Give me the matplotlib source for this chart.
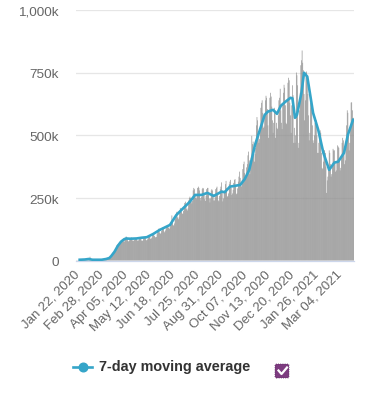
"""
Daily bars and 7-day moving average, Jan 2020 - Mar 2021.
"""
import matplotlib
matplotlib.use('Agg')
import matplotlib.pyplot as plt
from matplotlib.patches import FancyBboxPatch
from matplotlib.lines import Line2D
from matplotlib.transforms import ScaledTranslation

W, H = 371, 393

# daily values in thousands, one row per week (first day Jan 22, 2020)
daily = [
    0.6, 0.6, 0.3, 0.7, 0.8, 1.7, 1.1,
    2, 2, 2, 2, 3, 3, 4,
    4, 3, 3, 3, 3, 3, 2,
    2, 15, 6, 3, 2, 2, 2,
    1, 1, 1, 1, 1, 1, 1,
    1, 1, 1, 2, 2, 2, 2,
    2, 3, 4, 4, 4, 4, 5,
    7, 7, 11, 11, 13, 16, 19,
    26, 28, 34, 31, 34, 41, 43,
    50, 62, 64, 67, 60, 65, 73,
    75, 81, 84, 82, 77, 74, 82,
    88, 96, 94, 88, 78, 76, 80,
    85, 85, 92, 83, 80, 78, 80,
    82, 86, 90, 88, 82, 78, 80,
    84, 88, 92, 86, 80, 78, 80,
    90, 92, 92, 90, 82, 80, 84,
    88, 95, 98, 94, 86, 88, 92,
    102, 105, 108, 98, 94, 92, 94,
    105, 118, 125, 128, 112, 106, 110,
    118, 128, 132, 128, 116, 112, 120,
    128, 138, 140, 135, 130, 126, 132,
    145, 152, 180, 160, 142, 138, 148,
    165, 178, 192, 195, 172, 165, 172,
    195, 210, 205, 195, 188, 186, 198,
    215, 230, 235, 225, 205, 200, 208,
    240, 250, 255, 250, 235, 228, 238,
    280, 290, 285, 265, 250, 248, 258,
    290, 295, 290, 280, 250, 240, 255,
    285, 290, 288, 270, 245, 238, 258,
    285, 290, 290, 262, 248, 232, 248,
    280, 285, 280, 265, 240, 240, 252,
    285, 290, 295, 270, 240, 236, 258,
    285, 295, 312, 280, 236, 248, 272,
    280, 305, 318, 290, 255, 258, 268,
    305, 315, 322, 290, 262, 268, 282,
    310, 322, 325, 300, 265, 268, 288,
    315, 335, 355, 330, 300, 296, 322,
    365, 385, 395, 350, 325, 335, 372,
    385, 420, 435, 400, 345, 380, 410,
    498, 465, 475, 440, 395, 425, 450,
    540, 573, 560, 500, 470, 485, 520,
    610, 630, 640, 590, 530, 535, 570,
    640, 658, 650, 605, 540, 490, 595,
    650, 670, 655, 615, 560, 510, 550,
    610, 600, 490, 550, 530, 525, 580,
    640, 650, 686, 600, 550, 525, 625,
    670, 702, 690, 620, 550, 545, 645,
    710, 730, 720, 630, 580, 510, 620,
    700, 660, 470, 530, 470, 500, 751,
    740, 700, 450, 470, 600, 670, 780,
    800, 839, 790, 760, 665, 560, 640,
    750, 755, 730, 665, 580, 480, 510,
    630, 610, 610, 540, 480, 470, 500,
    550, 570, 560, 500, 430, 430, 470,
    500, 520, 510, 430, 370, 365, 395,
    440, 440, 430, 375, 270, 320, 335,
    380, 440, 430, 385, 335, 345, 385,
    446, 440, 440, 395, 355, 360, 390,
    460, 455, 450, 400, 360, 370, 410,
    470, 490, 480, 430, 385, 400, 455,
    540, 600, 590, 510, 440, 470, 530,
    631, 632, 600, 560, 570,
]

# moving average: day number and value in thousands
ma_days = [6, 14, 20, 26, 40, 47, 52, 55, 60, 65, 70, 75, 78, 84, 94, 102, 110, 120,
           130, 146, 156, 167, 177, 185, 195, 204, 214, 226, 231, 239, 255, 262, 269,
           278, 284, 293, 298, 306, 312, 318, 325, 333, 336, 340, 343, 350, 354, 359,
           368, 376, 384, 393, 401, 407, 416, 422, 430]
ma_vals = [3, 4, 6, 3, 3, 6, 10, 18, 35, 58, 75, 85, 88, 87, 88, 91, 93, 106,
           122, 142, 182, 210, 235, 262, 262, 270, 258, 275, 273, 295, 302, 325, 362,
           462, 510, 582, 595, 602, 586, 618, 634, 650, 648, 570, 582, 670, 750, 735,
           590, 522, 430, 362, 391, 395, 430, 502, 562]

y_ticks = [0, 250, 500, 750, 1000]
y_labels = ['0', '250k', '500k', '750k', '1,000k']
x_ticks = list(range(0, 432, 37))
x_labels = ['Jan 22, 2020', 'Feb 28, 2020', 'Apr 05, 2020', 'May 12, 2020',
            'Jun 18, 2020', 'Jul 25, 2020', 'Aug 31, 2020', 'Oct 07, 2020',
            'Nov 13, 2020', 'Dec 20, 2020', 'Jan 26, 2021', 'Mar 04, 2021']

plt.rcParams['font.family'] = ['Liberation Sans', 'DejaVu Sans']

fig = plt.figure(figsize=(W / 100, H / 100), dpi=100)
ax = fig.add_axes([75.5 / W, 1 - 260.5 / H, 278.5 / W, 250.3 / H])

bars = ax.bar(range(len(daily)), daily, width=1.0, color='#8e8e8e', linewidth=0, zorder=2)
for b in bars:
    b.set_snap(False)
ax.plot(ma_days, ma_vals, color='#35a5c9', linewidth=1.9, solid_joinstyle='round', zorder=3)

ax.set_xlim(-0.5, 431.5)
ax.set_ylim(0, 1000)
ax.set_yticks(y_ticks)
ax.set_yticklabels(y_labels, fontsize=9.7, color='#666666')
ax.set_xticks(x_ticks)
ax.set_xticklabels(x_labels, fontsize=9.5, color='#666666', rotation=45, ha='right',
                   va='top', rotation_mode='anchor')
ax.tick_params(axis='both', length=0)
ax.tick_params(axis='y', pad=12)
ax.tick_params(axis='x', pad=6)
ax.grid(axis='y', color='#e6e6e6', linewidth=0.9, zorder=0)
ax.set_axisbelow(True)
for s in ['top', 'left', 'right']:
    ax.spines[s].set_visible(False)
ax.spines['bottom'].set_color('#ccd6eb')
ax.spines['bottom'].set_linewidth(0.9)

# nudge tick labels a pixel or two
for lab in ax.get_yticklabels():
    lab.set_transform(lab.get_transform() + ScaledTranslation(0, -1.2 / 100, fig.dpi_scale_trans))
for lab in ax.get_xticklabels():
    lab.set_transform(lab.get_transform() + ScaledTranslation(-2 / 100, 0, fig.dpi_scale_trans))

# legend drawn by hand in pixel coordinates
def px(x, y):
    return x / W, 1 - y / H

x0, y0 = px(73, 367)
x1, y1 = px(92, 367)
fig.add_artist(Line2D([x0, x1], [y0, y1], color='#35a5c9', linewidth=1.9))
mx, my = px(82.5, 367)
fig.add_artist(Line2D([mx], [my], marker='o', markersize=6.2, color='#35a5c9', linewidth=0))
tx, ty = px(98.5, 367)
fig.text(tx, ty, '7-day moving average', fontsize=10.4, fontweight='bold', color='#333333',
         va='center', ha='left')

bx, by = px(275, 378)
fig.add_artist(FancyBboxPatch((bx, by), 14 / W, 14 / H, boxstyle='round,pad=0,rounding_size=0.004',
                              transform=fig.transFigure, facecolor='#7d3c80', edgecolor='#5f2c63',
                              linewidth=0.6, linestyle=':'))
c = [px(278.5, 370.5), px(281.5, 374), px(287, 367.5)]
fig.add_artist(Line2D([p[0] for p in c], [p[1] for p in c], color='white', linewidth=1.6))

fig.savefig('out.png', dpi=100)
